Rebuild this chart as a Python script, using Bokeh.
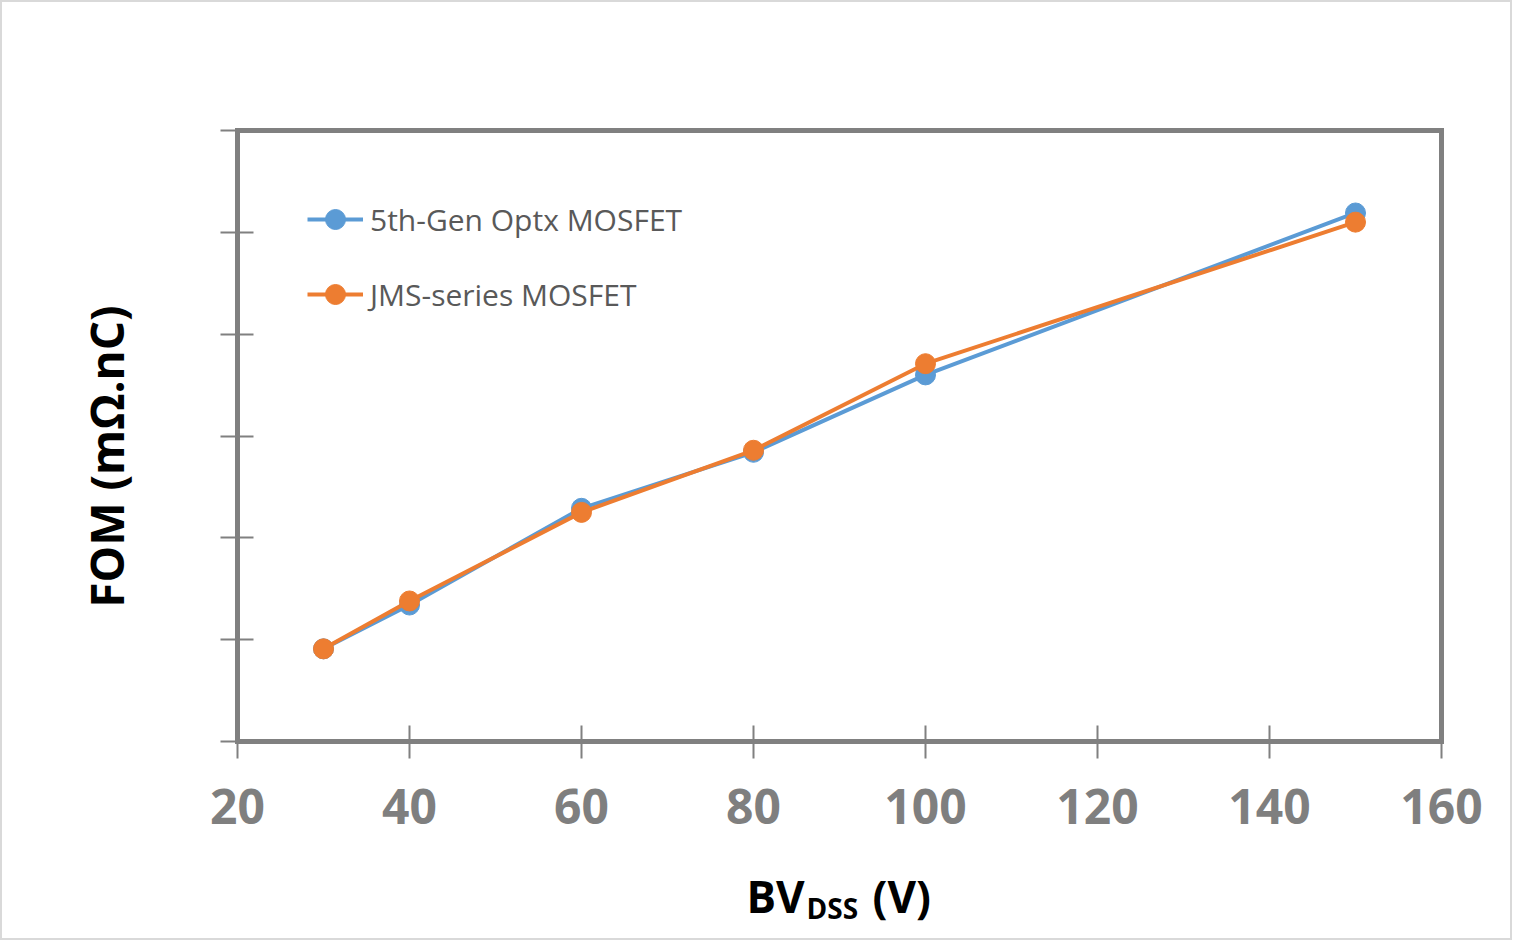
import math
from bokeh.plotting import figure
from bokeh.models import Range1d, FixedTicker, Label, Legend, LegendItem, LinearAxis
from bokeh.embed import file_html
from bokeh.resources import INLINE

# ---- data ----
bv_dss = [30, 40, 60, 80, 100, 150]
fom_optx = [0.91, 1.34, 2.29, 2.84, 3.60, 5.19]
fom_jms = [0.91, 1.38, 2.25, 2.86, 3.71, 5.10]
series_names = ["5th-Gen Optx MOSFET", "JMS-series MOSFET"]
x_ticks = [20, 40, 60, 80, 100, 120, 140, 160]
y_ticks = [0, 1, 2, 3, 4, 5, 6]
x_lim = (20, 160)
y_lim = (0, 6)

# ---- layout (pixels) ----
W, H = 1512, 940
BOX_L, BOX_R, BOX_T, BOX_B = 237, 1441, 130, 741   # chart box in canvas pixels
BLUE = "#5B9BD5"
ORANGE = "#ED7D31"
GRAY = "#808080"

# canvas-wide ranges so that the chart box sits at the pixels above
sx = (BOX_R - BOX_L) / (x_lim[1] - x_lim[0])
sy = (BOX_B - BOX_T) / (y_lim[1] - y_lim[0])
x0 = x_lim[0] - BOX_L / sx
y1 = y_lim[1] + BOX_T / sy

p = figure(width=W, height=H, output_backend="svg", toolbar_location=None,
           x_range=Range1d(x0, x0 + W / sx), y_range=Range1d(y1 - H / sy, y1),
           x_axis_type=None, y_axis_type=None, min_border=0,
           background_fill_color="white", border_fill_color="white")
p.outline_line_color = "#D9D9D9"
p.outline_line_width = 3


def style_axis(ax):
    ax.axis_line_color = GRAY
    ax.axis_line_width = 5
    ax.axis_line_cap = "square"
    ax.major_tick_line_color = GRAY
    ax.major_tick_line_width = 2
    ax.major_tick_in = 16
    ax.major_tick_out = 17
    ax.minor_tick_line_color = None


xb = LinearAxis(fixed_location=y_lim[0], bounds=x_lim, ticker=FixedTicker(ticks=x_ticks))
style_axis(xb)
xb.major_label_text_font = "Open Sans"
xb.major_label_text_font_style = "bold"
xb.major_label_text_font_size = "48px"
xb.major_label_text_color = "#7F7F7F"
xb.major_label_standoff = 30
p.add_layout(xb, "below")

yl = LinearAxis(fixed_location=x_lim[0], bounds=y_lim, ticker=FixedTicker(ticks=y_ticks))
style_axis(yl)
yl.major_label_overrides = {t: "" for t in y_ticks}
p.add_layout(yl, "left")

xt = LinearAxis(fixed_location=y_lim[1], bounds=x_lim, ticker=FixedTicker(ticks=[]))
style_axis(xt)
p.add_layout(xt, "above")

yr = LinearAxis(fixed_location=x_lim[1], bounds=y_lim, ticker=FixedTicker(ticks=[]))
style_axis(yr)
p.add_layout(yr, "right")

r_optx_line = p.line(bv_dss, fom_optx, line_color=BLUE, line_width=4)
r_optx_pts = p.scatter(bv_dss, fom_optx, size=20, fill_color=BLUE, line_color=BLUE)
r_jms_line = p.line(bv_dss, fom_jms, line_color=ORANGE, line_width=4)
r_jms_pts = p.scatter(bv_dss, fom_jms, size=20, fill_color=ORANGE, line_color=ORANGE)

legend = Legend(items=[
    LegendItem(label=series_names[0], renderers=[r_optx_line, r_optx_pts]),
    LegendItem(label=series_names[1], renderers=[r_jms_line, r_jms_pts]),
], location=(307, H - 319))
legend.glyph_width = 56
legend.glyph_height = 50
legend.label_height = 50
legend.spacing = 25
legend.padding = 0
legend.margin = 0
legend.label_standoff = 7
legend.border_line_color = None
legend.background_fill_alpha = 0
legend.label_text_font = "Open Sans"
legend.label_text_font_size = "30px"
legend.label_text_color = "#595959"
p.add_layout(legend, "center")

# axis titles (screen units: from the canvas' bottom-left)
title_font = dict(text_font="Open Sans", text_font_style="bold", text_color="black")
p.add_layout(Label(x=105, y=H - 456, x_units="screen", y_units="screen",
                   text="FOM (mΩ.nC)", angle=math.pi / 2,
                   text_align="center", text_baseline="middle",
                   text_font_size="46px", **title_font))
p.add_layout(Label(x=746, y=H - 895, x_units="screen", y_units="screen",
                   text="BV", text_align="left", text_baseline="alphabetic",
                   text_font_size="44px", **title_font))
p.add_layout(Label(x=806, y=H - 907, x_units="screen", y_units="screen",
                   text="DSS", text_align="left", text_baseline="alphabetic",
                   text_font_size="28px", **title_font))
p.add_layout(Label(x=872, y=H - 895, x_units="screen", y_units="screen",
                   text="(V)", text_align="left", text_baseline="alphabetic",
                   text_font_size="44px", **title_font))

open("out.html", "w").write(file_html(p, INLINE))
